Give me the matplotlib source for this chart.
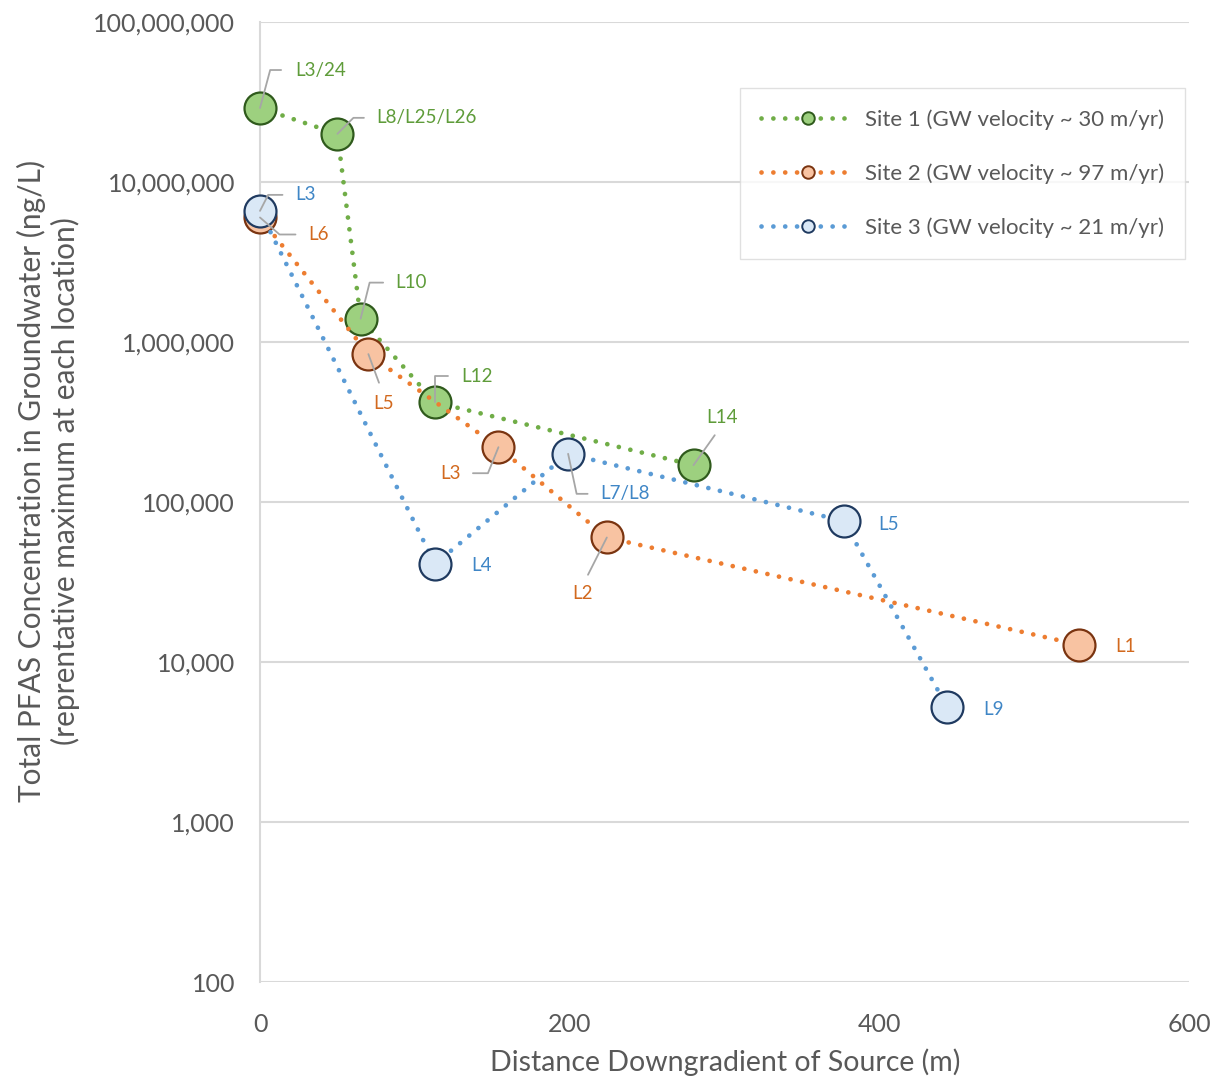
import numpy as np
import matplotlib
matplotlib.use("Agg")
import matplotlib.pyplot as plt
from matplotlib.lines import Line2D
from matplotlib.ticker import FuncFormatter

plt.rcParams['font.family'] = ['Lato', 'DejaVu Sans']

# distance downgradient (m) and total PFAS (ng/L) per site
site1_x = [0, 50, 65, 113, 280]
site1_y = [2.9e7, 2.0e7, 1.4e6, 4.2e5, 1.7e5]
site1_labels = ["L3/24", "L8/L25/L26", "L10", "L12", "L14"]

site2_x = [0, 70, 154, 224, 529]
site2_y = [6.0e6, 8.4e5, 2.2e5, 6.0e4, 1.28e4]
site2_labels = ["L6", "L5", "L3", "L2", "L1"]

site3_x = [0, 113, 199, 377, 444]
site3_y = [6.6e6, 4.1e4, 2.0e5, 7.6e4, 5.2e3]
site3_labels = ["L3", "L4", "L7/L8", "L5", "L9"]

series_names = ["Site 1 (GW velocity ~ 30 m/yr)",
                "Site 2 (GW velocity ~ 97 m/yr)",
                "Site 3 (GW velocity ~ 21 m/yr)"]

# label placement: (dx, dy) in pixels, ha, leader connection (None = no leader)
site1_place = [(35, 38, 'left', ('angle', 75, (0, 0.5), 8)),
               (39, 16, 'left', ('angle', 45, (0, 0.5), 7)),
               (35, 36, 'left', ('angle', 76, (0, 0.5), 7)),
               (26, 26, 'left', ('angle', 90, (0, 0.5), 7)),
               (28, 48, 'center', ('line', None, (0.5, 0), 6))]
site2_place = [(48, -17, 'left', ('angle', -41, (0, 0.5), 7)),
               (15, -49, 'center', ('line', None, (0.5, 1), 7)),
               (-38, -26, 'right', ('angle', 68, (1, 0.5), 7)),
               (-24, -56, 'center', ('line', None, (0.5, 1), 6)),
               (36, -2, 'left', None)]
site3_place = [(35, 16, 'left', ('angle', 63, (0, 0.5), 7)),
               (36, -2, 'left', None),
               (32, -40, 'left', ('angle', -78, (0, 0.5), 7)),
               (35, -3, 'left', None),
               (36, -2, 'left', None)]

line_cols = ['#70ad47', '#ed7d31', '#5b9bd5']
fill_cols = ['#9dd07f', '#f8c3a2', '#dae8f6']
edge_cols = ['#2f5a1c', '#7a3410', '#1f3a60']
text_cols = ['#5f9c3a', '#d2691e', '#3f86c6']
gray = '#595959'
grid_col = '#d9d9d9'
dots = (0, (0.01, 2.5))

fig = plt.figure(figsize=(12.15, 10.8), dpi=100)
ax = fig.add_axes([260 / 1215, 1 - 982 / 1080, 929 / 1215, 960 / 1080])

all_x = [site1_x, site2_x, site3_x]
all_y = [site1_y, site2_y, site3_y]
all_lab = [site1_labels, site2_labels, site3_labels]
all_place = [site1_place, site2_place, site3_place]

for i in range(3):
    ax.plot(all_x[i], all_y[i], color=line_cols[i], lw=3.4,
            linestyle=dots, dash_capstyle='round',
            marker='o', ms=23, mfc=fill_cols[i], mec=edge_cols[i], mew=1.6,
            clip_on=False, zorder=3 + i)

for i in range(3):
    for x, y, lab, (dx, dy, ha, lead) in zip(all_x[i], all_y[i], all_lab[i], all_place[i]):
        kw = {}
        if lead is not None:
            kind, ang, rel, shr = lead
            cs = 'arc3' if kind == 'line' else f'angle,angleA=0,angleB={ang},rad=0'
            kw['arrowprops'] = dict(arrowstyle='-', color='#a6a6a6', lw=1.3,
                                    shrinkA=shr, shrinkB=0, relpos=rel,
                                    connectionstyle=cs)
        ax.annotate(lab, xy=(x, y), xytext=(dx, dy), textcoords='offset pixels',
                    ha=ha, va='center', fontsize=13.5, color=text_cols[i],
                    zorder=10, annotation_clip=False, **kw)

ax.set_yscale('log')
ax.set_ylim(100, 1e8)
ax.set_xlim(0, 600)
ax.set_xticks([0, 200, 400, 600])
ax.yaxis.set_major_formatter(FuncFormatter(lambda v, p: f"{int(round(v)):,}"))
ax.yaxis.set_minor_locator(plt.NullLocator())
ax.tick_params(axis='both', length=0, labelsize=18, colors=gray)
ax.tick_params(axis='y', pad=18)
ax.tick_params(axis='x', pad=22)
ax.grid(axis='y', color=grid_col, lw=1.5, zorder=0)
ax.set_axisbelow(True)
for s in ['top', 'right', 'bottom']:
    ax.spines[s].set_visible(False)
ax.spines['left'].set_color(grid_col)
ax.spines['left'].set_linewidth(1.5)

fig.text(725 / 1215, 1 - 1062 / 1080, "Distance Downgradient of Source (m)",
         ha='center', va='center', fontsize=20.5, color=gray)
fig.text(48 / 1215, 1 - 481 / 1080,
         "Total PFAS Concentration in Groundwater (ng/L)\n(reprentative maximum at each location)",
         rotation=90, ha='center', va='center', fontsize=21.5, color=gray, linespacing=1.2)

handles = [Line2D([], [], color=line_cols[i], lw=3.4, linestyle=dots,
                  dash_capstyle='round', marker='o', ms=9, mfc=fill_cols[i],
                  mec=edge_cols[i], mew=1.4) for i in range(3)]
leg = ax.legend(handles, series_names, loc='upper right',
                bbox_to_anchor=(1185 / 1215, 1 - 88 / 1080), bbox_transform=fig.transFigure,
                fontsize=16, labelcolor=gray, frameon=True, fancybox=False,
                edgecolor=grid_col, handlelength=4.2, handletextpad=0.45,
                labelspacing=1.5, borderpad=0.95, borderaxespad=0, numpoints=1)
leg.get_frame().set_linewidth(1.0)
leg.set_zorder(2)

fig.savefig("out.png", dpi=100)
